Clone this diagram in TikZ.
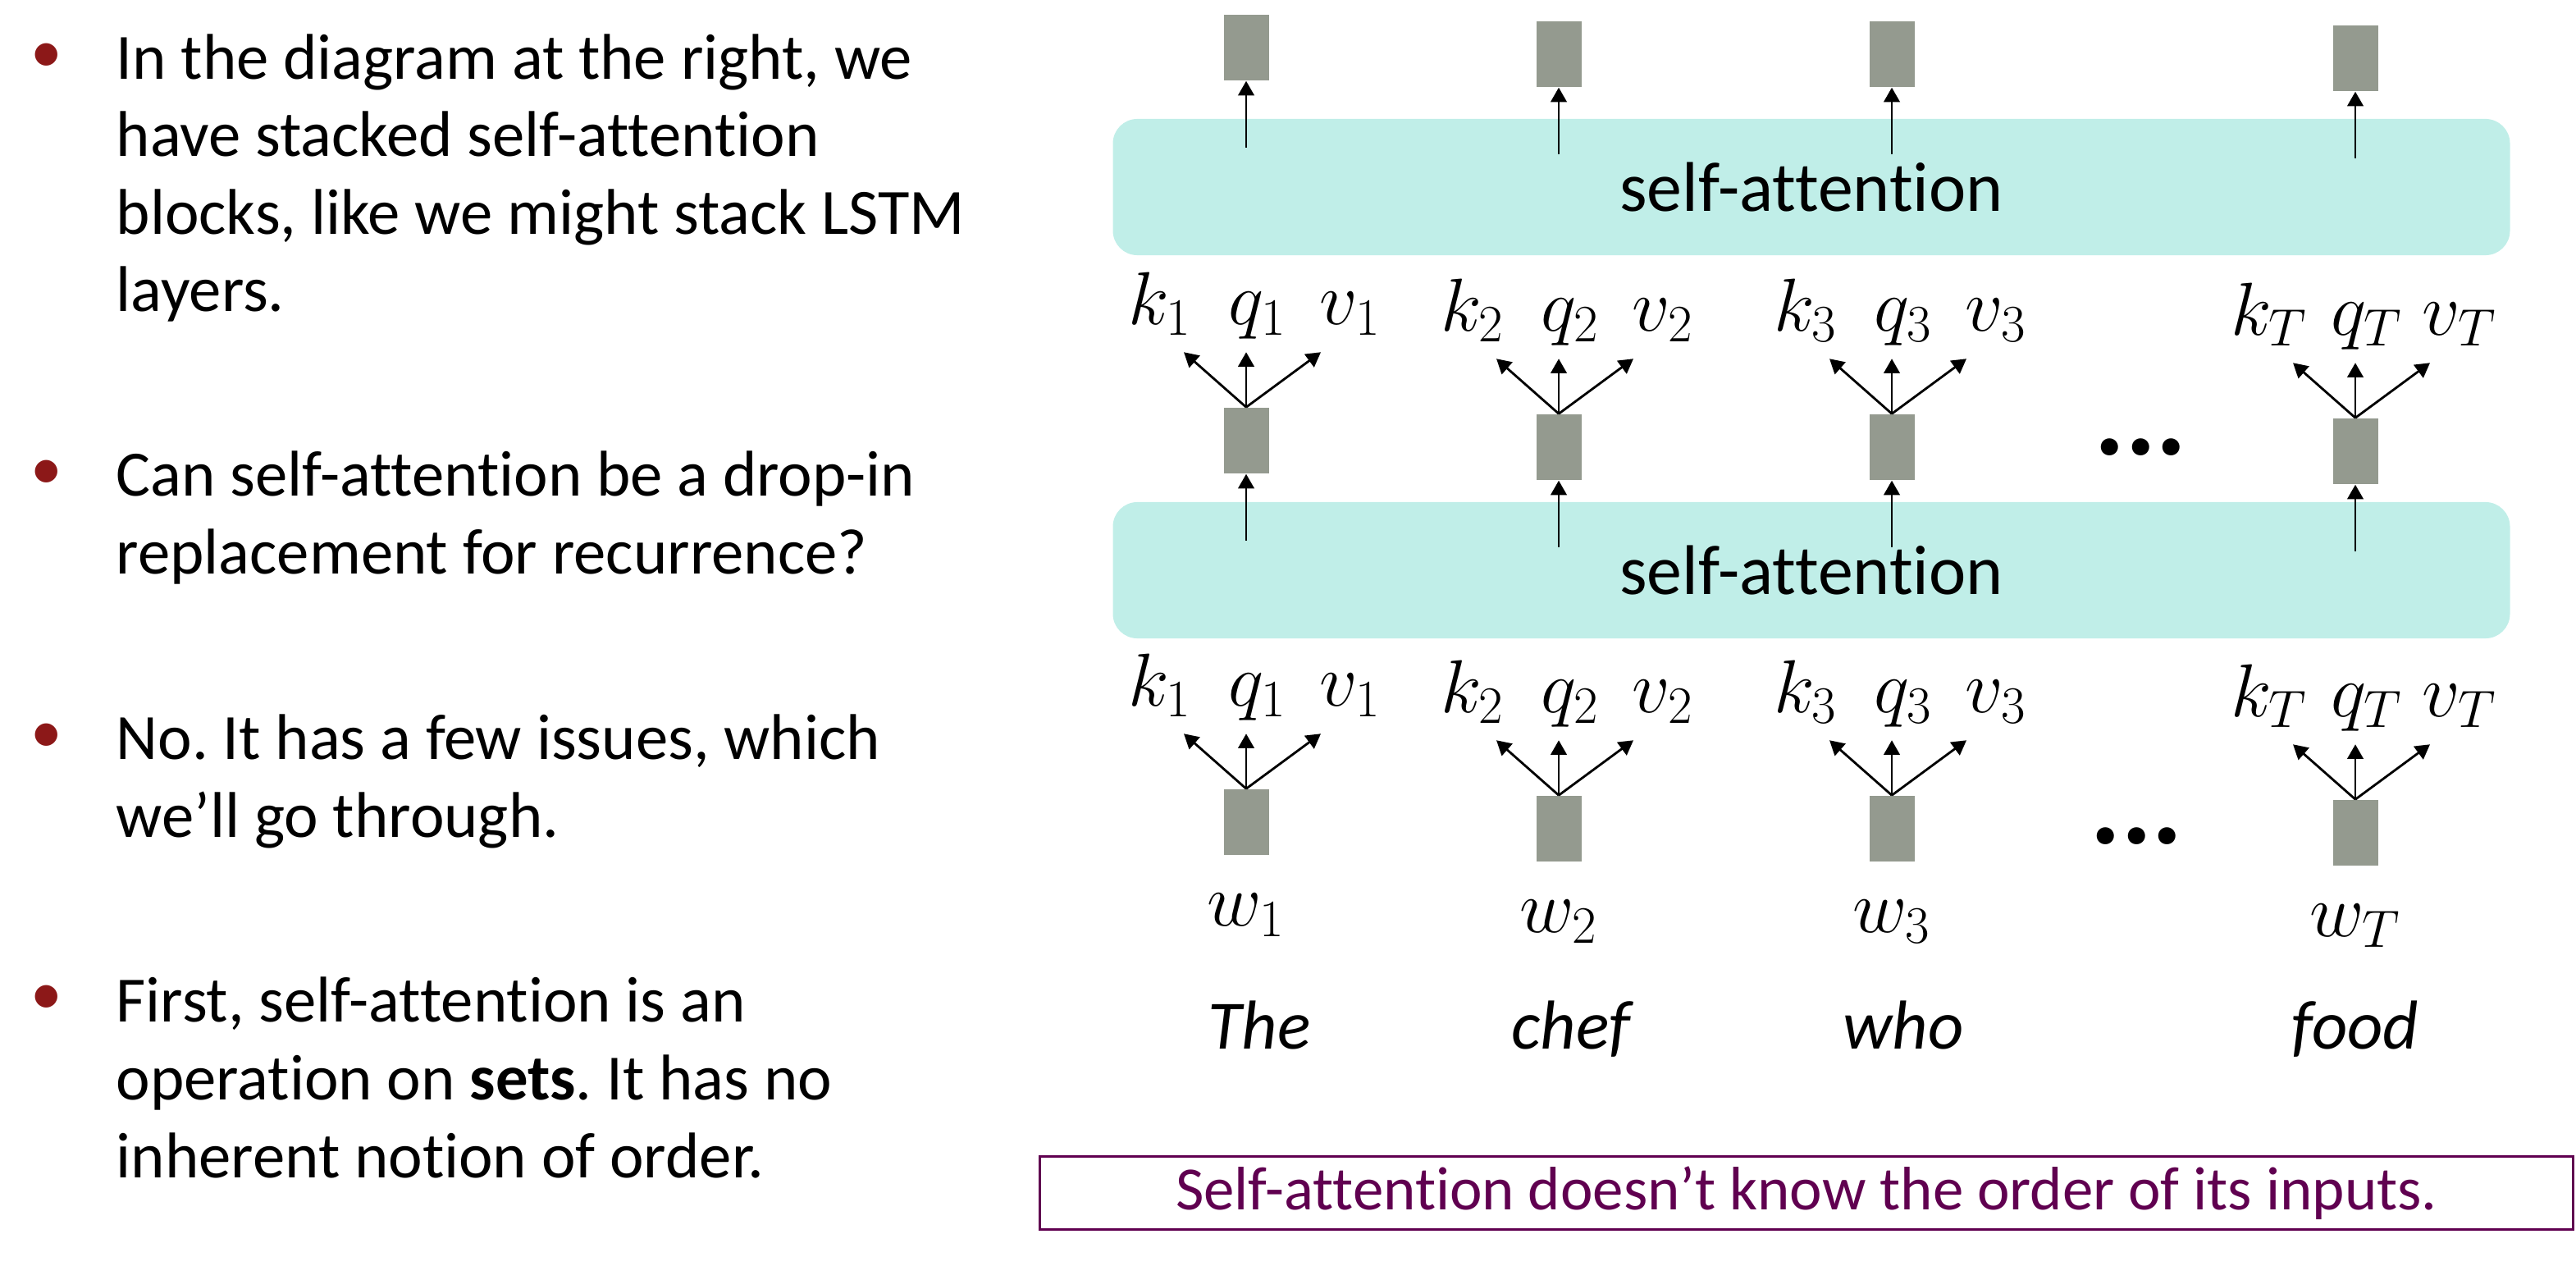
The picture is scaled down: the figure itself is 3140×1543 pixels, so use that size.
\RequirePackage{fix-cm}
\documentclass[tikz,border=0pt]{standalone}
\usepackage{fontspec}
\setmainfont[Ligatures=NoCommon]{Carlito}
\frenchspacing
\usetikzlibrary{arrows.meta,calc}

\definecolor{attnfill}{RGB}{192,238,232}
\definecolor{vecgray}{RGB}{148,154,143}
\definecolor{bulletred}{RGB}{140,24,24}
\definecolor{notepurple}{RGB}{96,0,80}

\tikzset{
  vec/.style={fill=vecgray, inner sep=0pt, minimum width=0.55cm, minimum height=0.8cm},
  attn/.style={fill=attnfill, rounded corners=8.5pt, minimum width=17.02cm, minimum height=1.66cm,
    font=\fontsize{24.4}{29}\selectfont},
  arr/.style={-{Triangle[length=5pt,width=5.5pt]}, line width=0.8pt},
  lbl/.style={inner sep=0pt, anchor=base, font=\fontsize{26}{31}\selectfont},
  word/.style={inner sep=0pt, anchor=base, font=\fontsize{24}{29}\selectfont\itshape},
  para/.style={inner sep=0pt, anchor=base west, align=left, font=\fontsize{22.4}{26.9}\selectfont},
  bullet/.style={inner sep=0pt, text=bulletred, font=\fontsize{22}{26.9}\selectfont},
  dotsmark/.style={inner sep=0pt, font=\fontsize{40}{48}\selectfont\bfseries\itshape},
  note/.style={draw=notepurple, line width=1pt, text=notepurple, minimum width=18.68cm,
    minimum height=0.89cm, font=\fontsize{21.3}{25}\selectfont}
}

\begin{document}
\begin{tikzpicture}[x=0.01cm, y=-0.01cm]
\useasboundingbox (0,0) rectangle (3140,1543);

% bullets on the left (base = last line)
\node[bullet] (b1) at (57,71) {\textbullet};
\node[para] (p1) at (141,380) {In the diagram at the right, we\\have stacked self-attention\\blocks, like we might stack LSTM\\layers.};
\node[bullet] (b2) at (57,579) {\textbullet};
\node[para] (p2) at (141,699) {Can self-attention be a drop-in\\replacement for recurrence?};
\node[bullet] (b3) at (57,900) {\textbullet};
\node[para] (p3) at (141,1020) {No. It has a few issues, which\\we’ll go through.};
\node[bullet] (b4) at (57,1219) {\textbullet};
\node[para] (p4) at (141,1435) {First, self-attention is an\\operation on \textbf{sets}. It has no\\inherent notion of order.};

% the two stacked blocks
\node[attn] (sa1) at (2208,228) {self-attention};
\node[attn] (sa2) at (2208,695) {self-attention};

\foreach \i/\x/\dy/\s/\word/\wx in {1/1519/0/1/The/1535, 2/1900/8/2/chef/1915,
    3/2306/8/3/who/2320, 4/2871/13/T/food/2871} {
  % output, hidden and input vectors
  \node[vec] (o\i) at (\x,58+\dy) {};
  \node[vec] (h\i) at (\x,537+\dy) {};
  \node[vec] (e\i) at (\x,1002+\dy) {};
  \node[lbl] (w\i) at (\x,1128+\dy) {$w_{\s}$};
  \node[word] (t\i) at (\wx,1278) {\word};
  % keys, queries, values
  \foreach \row in {h,e} {
    \node[lbl] (\row k\i) at ($(\row\i.north)+(-105,-101)$) {$k_{\s}$};
    \node[lbl] (\row q\i) at ($(\row\i.north)+(14,-101)$) {$q_{\s}$};
    \node[lbl] (\row v\i) at ($(\row\i.north)+(127,-101)$) {$v_{\s}$};
    \coordinate (\row kt\i) at ($(\row\i.north)+(-76,-67)$);
    \coordinate (\row qt\i) at ($(\row\i.north)+(0,-67)$);
    \coordinate (\row vt\i) at ($(\row\i.north)+(91,-67)$);
    \draw[arr] (\row\i.north) -- (\row kt\i);
    \draw[arr] (\row\i.north) -- (\row qt\i);
    \draw[arr] (\row\i.north) -- (\row vt\i);
  }
  % out of each block
  \coordinate (oa\i) at ($(o\i.south)+(0,81)$);
  \coordinate (ha\i) at ($(h\i.south)+(0,81)$);
  \draw[arr] (oa\i) -- (o\i.south);
  \draw[arr] (ha\i) -- (h\i.south);
}

\node[dotsmark] (dh) at (2612,545) {...};
\node[dotsmark] (de) at (2607,1019) {...};

\node[note] (n) at (2202,1454) {Self-attention doesn’t know the order of its inputs.};
\end{tikzpicture}
\end{document}
